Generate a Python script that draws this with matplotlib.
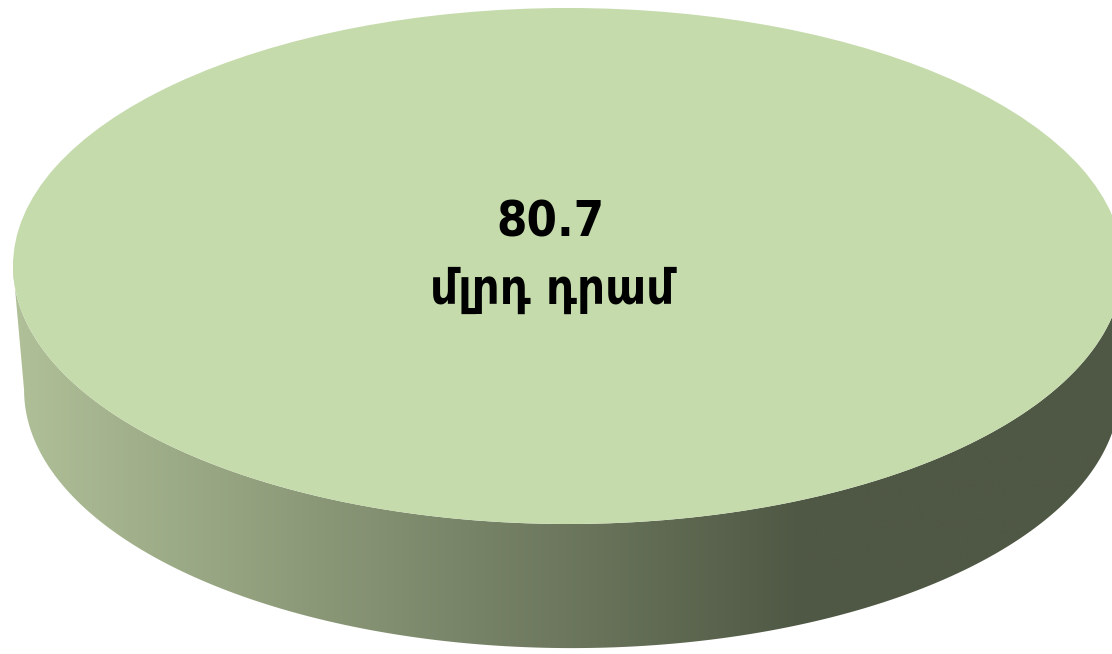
import numpy as np
import matplotlib.pyplot as plt
from matplotlib.colors import LinearSegmentedColormap
from matplotlib.patches import Polygon

# data
values = [80.7]
value_labels = ["80.7"]
unit_label = "մլրդ դրամ"

top_color = "#c5dbab"
side_light = "#b0c098"
side_dark = "#4f5844"

# geometry of the "3d" disc, in units of the top ellipse radius
depth_center = (0.007, -0.481)
depth_radius = (0.987, 1.0)

fig = plt.figure(figsize=(11.12, 6.54), dpi=100)
ax = fig.add_axes([0, 0, 1, 1])

# top face
wedges, _ = ax.pie(values, colors=[top_color], radius=1, center=(0, 0),
                   startangle=90, wedgeprops=dict(linewidth=0, zorder=3))

# side wall: band between lower half of top ellipse and lower half of bottom ellipse
t = np.linspace(np.pi, 2 * np.pi, 300)
top_arc = np.c_[np.cos(t), np.sin(t)]
bx, by = depth_center
brx, bry = depth_radius
bot_arc = np.c_[bx + brx * np.cos(t[::-1]), by + bry * np.sin(t[::-1])]
side = Polygon(np.vstack([top_arc, bot_arc]), closed=True,
               facecolor="none", edgecolor="none")
ax.add_patch(side)

cmap = LinearSegmentedColormap.from_list(
    "side", [(0, side_light), (0.70, side_dark), (1, side_dark)])
grad = np.linspace(0, 1, 512).reshape(1, -1)
im = ax.imshow(grad, extent=(-1.0, 1.03, -1.55, 0.05), cmap=cmap,
               aspect="auto", zorder=1, interpolation="bilinear")
im.set_clip_path(side)

# label
ax.text(-0.032, 0.170, value_labels[0], ha="center", va="center",
        fontsize=35, fontweight="bold", fontstretch="condensed",
        family="DejaVu Sans", zorder=5)
ax.text(-0.029, -0.093, unit_label, ha="center", va="center",
        fontsize=35, fontweight="bold", fontstretch="condensed",
        family="DejaVu Sans", zorder=5)

ax.set_aspect("auto")
ax.set_xlim(-1.0234, 0.9802)
ax.set_ylim(-1.5039, 1.031)
ax.axis("off")

fig.savefig("out.png", dpi=100)
